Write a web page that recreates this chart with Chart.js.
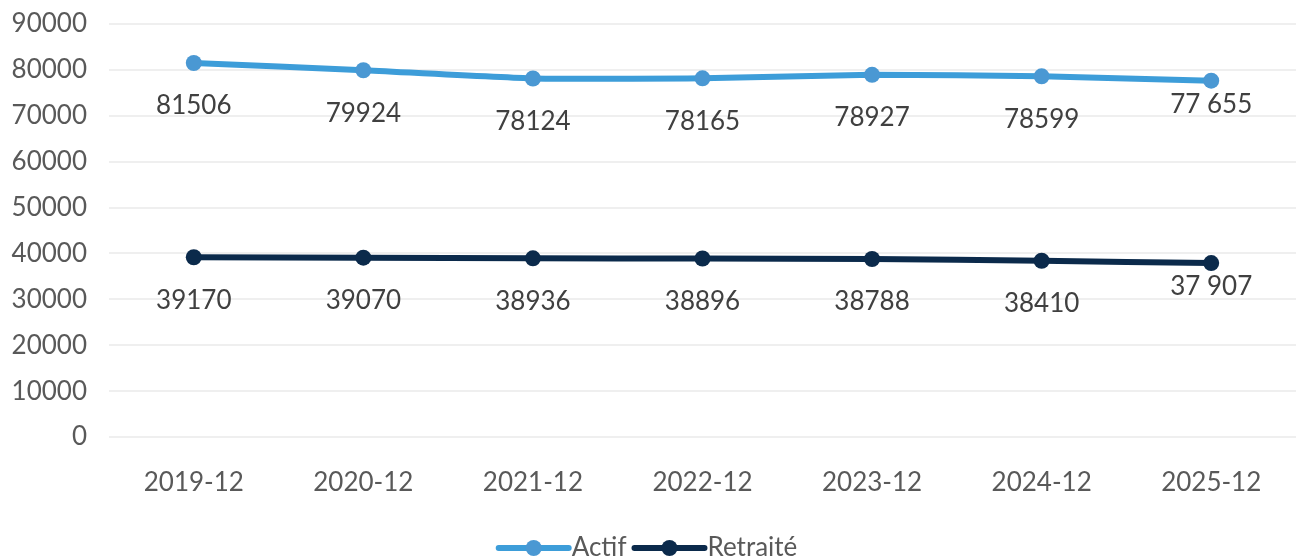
<!DOCTYPE html>
<html>
<head>
<meta charset="utf-8">
<script src="https://cdn.jsdelivr.net/npm/chart.js@4"></script>
<style>
  html, body { margin: 0; padding: 0; background: #fff; }
  #wrap { width: 1296px; height: 558px; }
</style>
</head>
<body>
<div id="wrap"><canvas id="chart"></canvas></div>
<script>
// data
const categories = ['2019-12', '2020-12', '2021-12', '2022-12', '2023-12', '2024-12', '2025-12'];
const actifValues = [81506, 79924, 78124, 78165, 78927, 78599, 77655];
const retraiteValues = [39170, 39070, 38936, 38896, 38788, 38410, 37907];
const seriesNames = ['Actif', 'Retraité'];

const FONT = 'Lato, "Open Sans", sans-serif';

// value labels under each point
const valueLabels = {
    id: 'valueLabels',
    afterDatasetsDraw(chart) {
        const ctx = chart.ctx;
        ctx.save();
        ctx.font = '26px ' + FONT;
        ctx.fillStyle = '#404040';
        ctx.textAlign = 'center';
        ctx.textBaseline = 'middle';
        chart.data.datasets.forEach((ds, i) => {
            const meta = chart.getDatasetMeta(i);
            meta.data.forEach((pt, j) => {
                const last = j === ds.data.length - 1;
                let txt = String(ds.data[j]);
                if (last) txt = txt.replace(/\B(?=(\d{3})+$)/g, ' ');
                ctx.fillText(txt, pt.x, pt.y + (last ? 24 : 43));
            });
        });
        ctx.restore();
    }
};

// legend drawn as line + marker, like the original
const lineLegend = {
    id: 'lineLegend',
    afterDraw(chart) {
        const ctx = chart.ctx;
        ctx.save();
        ctx.font = '26px ' + FONT;
        ctx.textBaseline = 'middle';
        const lineW = 70, gap = 3, itemGap = 8;
        const items = chart.data.datasets.map(ds => ({
            ds: ds,
            w: lineW + gap + ctx.measureText(ds.label).width
        }));
        const total = items.reduce((s, it) => s + it.w, 0) + itemGap * (items.length - 1);
        let x = chart.width / 2 - total / 2;
        const y = 548;
        items.forEach(it => {
            ctx.strokeStyle = it.ds.borderColor;
            ctx.lineWidth = 6;
            ctx.lineCap = 'round';
            ctx.beginPath();
            ctx.moveTo(x, y);
            ctx.lineTo(x + lineW, y);
            ctx.stroke();
            ctx.fillStyle = it.ds.pointBackgroundColor;
            ctx.beginPath();
            ctx.arc(x + lineW / 2, y, 8, 0, Math.PI * 2);
            ctx.fill();
            ctx.fillStyle = '#595959';
            ctx.fillText(it.ds.label, x + lineW + gap, y);
            x += it.w + itemGap;
        });
        ctx.restore();
    }
};

const chart = new Chart(document.getElementById('chart').getContext('2d'), {
    type: 'line',
    data: {
        labels: categories,
        datasets: [
            {
                label: seriesNames[0],
                data: actifValues,
                borderColor: '#3d9dd9',
                backgroundColor: '#4a98d3',
                pointBackgroundColor: '#4a98d3',
                pointBorderWidth: 0,
                borderWidth: 6,
                pointRadius: 8,
                tension: 0.15
            },
            {
                label: seriesNames[1],
                data: retraiteValues,
                borderColor: '#0b2a4b',
                backgroundColor: '#0b2a4b',
                pointBackgroundColor: '#0b2a4b',
                pointBorderWidth: 0,
                borderWidth: 6,
                pointRadius: 8,
                tension: 0.15
            }
        ]
    },
    options: {
        responsive: true,
        maintainAspectRatio: false,
        animation: false,
        layout: { autoPadding: false, padding: { top: 24, right: 0, bottom: 60, left: 0 } },
        plugins: {
            legend: { display: false },
            tooltip: { enabled: false }
        },
        scales: {
            x: {
                offset: true,
                grid: { display: false, drawTicks: false },
                border: { display: false },
                ticks: { color: '#595959', font: { size: 26, family: FONT }, padding: 30, maxRotation: 0 },
                afterFit: s => { s.height = 61; s.paddingLeft = 0; s.paddingRight = 0; }
            },
            y: {
                min: 0,
                max: 90000,
                grid: { color: '#efefef', lineWidth: 2, drawTicks: false },
                border: { display: false },
                ticks: {
                    stepSize: 10000,
                    color: '#595959',
                    font: { size: 26, family: FONT },
                    padding: 22,
                    callback: v => String(v)
                },
                afterFit: s => { s.width = 109; s.paddingTop = 0; s.paddingBottom = 0; }
            }
        }
    },
    plugins: [valueLabels, lineLegend]
});
</script>
</body>
</html>
